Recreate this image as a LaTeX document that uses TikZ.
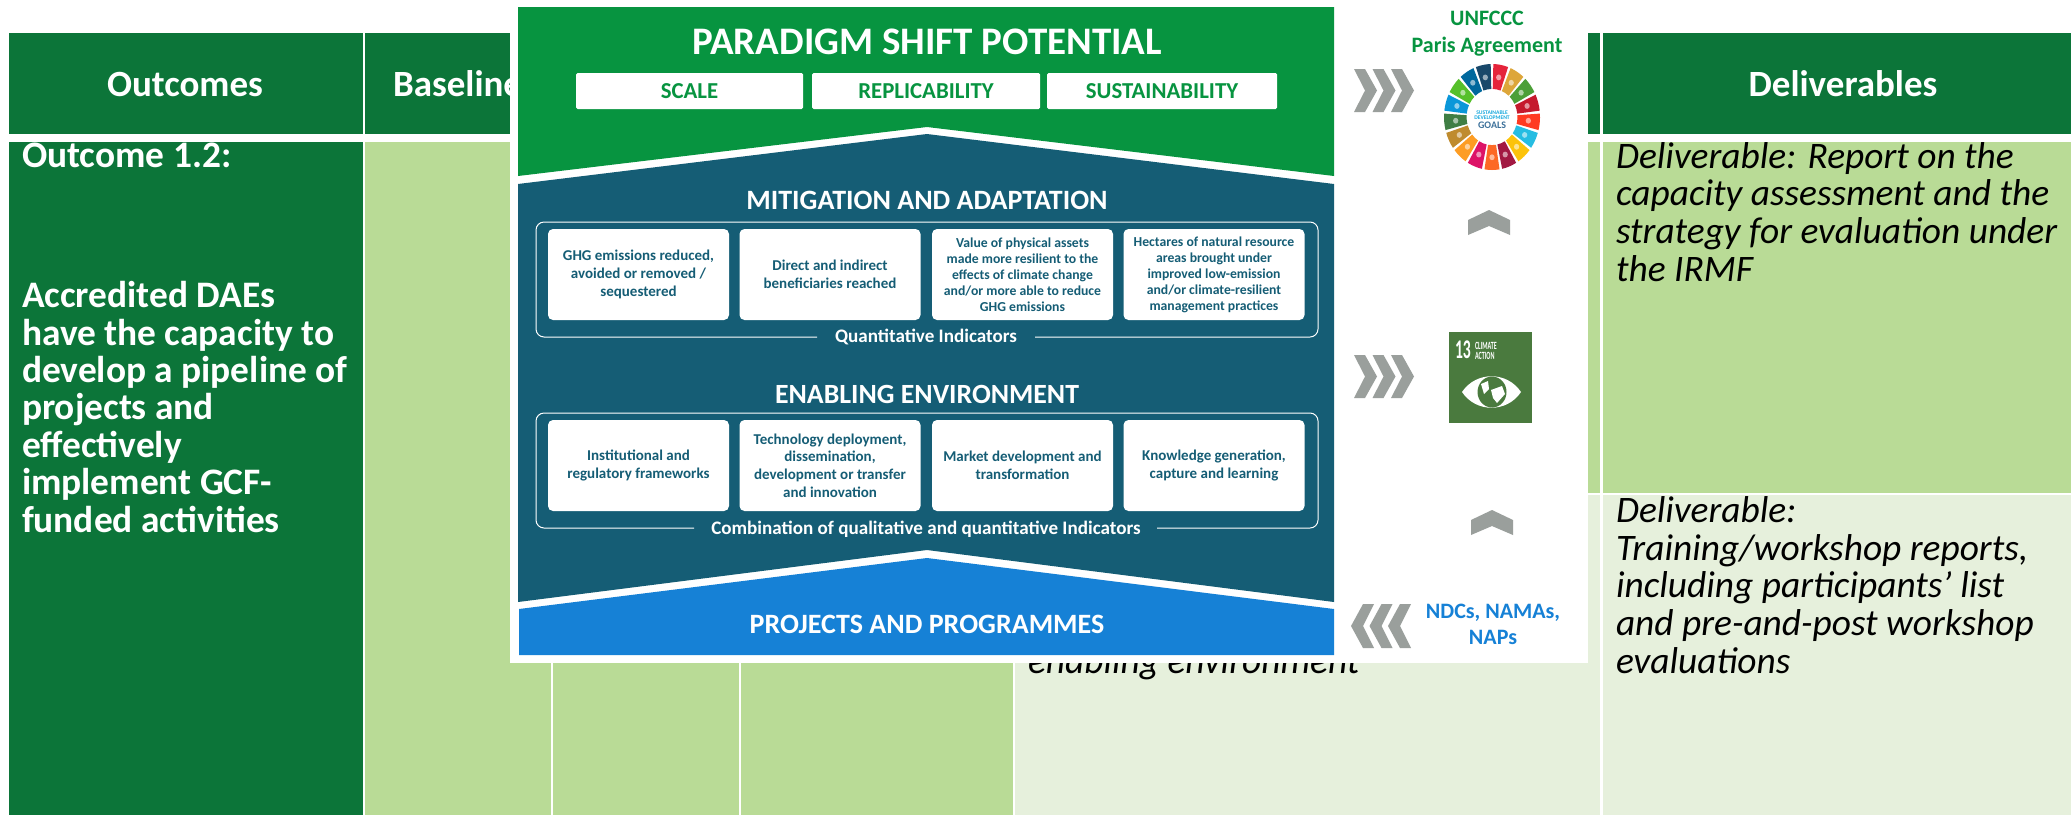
\documentclass[tikz,border=0pt]{standalone}
\usepackage{fontspec}
\setmainfont{Carlito}
\definecolor{hdr}{HTML}{0C7539}
\definecolor{lgreen}{HTML}{B9DB96}
\definecolor{pale}{HTML}{E6F0DC}
\definecolor{ovgreen}{HTML}{079440}
\definecolor{teal}{HTML}{155D75}
\definecolor{ovblue}{HTML}{1681D6}
\definecolor{chevgrey}{HTML}{9A9F9C}
\definecolor{climgreen}{HTML}{4A7A3E}
\newcommand{\fz}[2]{\fontsize{#1}{#2}\selectfont}
\newcommand{\chevR}[2]{\fill[chevgrey] (#1,#2-21.5) -- ++(11,0) -- (#1+23,#2) -- (#1+11,#2+21.5) -- (#1,#2+21.5) -- (#1+11,#2) -- cycle;}
\newcommand{\chevL}[2]{\fill[chevgrey] (#1,#2) -- (#1+12,#2-22) -- (#1+23,#2-22) -- (#1+12,#2) -- (#1+23,#2+22) -- (#1+12,#2+22) -- cycle;}
\newcommand{\chevU}[2]{\fill[chevgrey] (#1,#2+10) -- (#1+21,#2) -- (#1+42,#2+10) -- (#1+42,#2+25) -- (#1+21,#2+16) -- (#1,#2+25) -- cycle;}
\tikzset{
  txt/.style={inner sep=0pt,outer sep=0pt},
  hdrtext/.style={txt,text=white,font=\bfseries\fz{37}{37}},
  lefttext/.style={txt,text=white,anchor=base west,align=left,font=\bfseries\fz{37.4}{37.4}},
  deltext/.style={txt,text=black,anchor=base west,align=left,font=\itshape\fz{37.4}{37.6}},
  ovtitle/.style={txt,text=white,font=\bfseries},
  pill/.style={txt,fill=white,rounded corners=1.5pt,text=ovgreen,font=\bfseries\fz{22.8}{23},minimum height=36pt},
  card/.style={txt,fill=white,rounded corners=5pt,text=teal,align=center,font=\bfseries\fz{15}{17.7},minimum width=181pt,minimum height=91pt},
  smallcard/.style={card,font=\bfseries\fz{13.7}{16}},
  outline/.style={draw=white,line width=1pt,rounded corners=8pt},
}
\begin{document}
\begin{tikzpicture}[x=1pt,y=-1pt]
\useasboundingbox (0,0) rectangle (2071,815);
\fill[white] (0,0) rectangle (2071,815);
% table
\fill[hdr] (9,33) rectangle (363,134);
\fill[hdr] (365,33) rectangle (1600,134);
\fill[hdr] (1603,33) rectangle (2071,134);
\fill[hdr] (9,142) rectangle (363,815);
\fill[lgreen] (365,142) rectangle (551,815);
\fill[lgreen] (553,142) rectangle (739,815);
\fill[lgreen] (741,142) rectangle (1013,815);
\fill[lgreen] (1015,142) rectangle (1600,493);
\fill[lgreen] (1603,142) rectangle (2071,493);
\fill[pale] (1015,495) rectangle (1600,815);
\fill[pale] (1603,495) rectangle (2071,815);
\node[hdrtext,anchor=base] (outcomes) at (185,96) {Outcomes};
\node[hdrtext,anchor=base west] (baseline) at (393,96) {Baseline};
\node[hdrtext,anchor=base] (deliverables) at (1843,96) {Deliverables};
\node[lefttext] (out12) at (22,167) {Outcome 1.2:};
\node[lefttext] (outtext) at (22,532) {Accredited DAEs\\have the capacity to\\develop a pipeline of\\projects and\\effectively\\implement GCF-\\funded activities};
\node[deltext] (del1) at (1616,281) {Deliverable: Report on the\\capacity assessment and the\\strategy for evaluation under\\the IRMF};
\node[deltext] (del2) at (1616,673) {Deliverable:\\Training/workshop reports,\\including participants’ list\\and pre-and-post workshop\\evaluations};
\node[deltext] (enabling) at (1028,673) {enabling environment};
% overlay
\fill[white] (510,0) rectangle (1588,663);
\fill[ovgreen] (518,7) -- (1334,7) -- (1334,176) -- (927,127) -- (518,176) -- cycle;
\fill[teal] (518,184) -- (927,134) -- (1334,184) -- (1334,602) -- (927,550) -- (518,602) -- cycle;
\fill[ovblue] (519,609) -- (927,558) -- (1334,609) -- (1334,655) -- (519,655) -- cycle;
\node[ovtitle,font=\bfseries\fz{39}{39}] (paradigm) at (927,42) {PARADIGM SHIFT POTENTIAL};
\node[pill,minimum width=227pt] (scale) at (689.5,91) {SCALE};
\node[pill,minimum width=228pt] (repl) at (926,91) {REPLICABILITY};
\node[pill,minimum width=230pt] (sust) at (1162,91) {SUSTAINABILITY};
\node[ovtitle,font=\bfseries\fz{28}{28}] (mitig) at (927,200) {MITIGATION AND ADAPTATION};
\draw[outline] (817,337) -- (536,337) -- (536,222) -- (1318,222) -- (1318,337) -- (1035,337);
\node[card] (c11) at (638.5,274.5) {GHG emissions reduced,\\avoided or removed /\\sequestered};
\node[card] (c12) at (830,274.5) {Direct and indirect\\beneficiaries reached};
\node[smallcard] (c13) at (1022.5,274.5) {Value of physical assets\\made more resilient to the\\effects of climate change\\and/or more able to reduce\\GHG emissions};
\node[smallcard] (c14) at (1214,274.5) {Hectares of natural resource\\areas brought under\\improved low-emission\\and/or climate-resilient\\management practices};
\node[ovtitle,font=\bfseries\fz{19.1}{19}] (quant) at (926,337) {Quantitative Indicators};
\node[ovtitle,font=\bfseries\fz{27.8}{28}] (enab) at (927,394) {ENABLING ENVIRONMENT};
\draw[outline] (694,528) -- (536,528) -- (536,413) -- (1318,413) -- (1318,528) -- (1157,528);
\node[card] (c21) at (638.5,465.5) {Institutional and\\regulatory frameworks};
\node[card] (c22) at (830,465.5) {Technology deployment,\\dissemination,\\development or transfer\\and innovation};
\node[card] (c23) at (1022.5,465.5) {Market development and\\transformation};
\node[card] (c24) at (1214,465.5) {Knowledge generation,\\capture and learning};
\node[ovtitle,font=\bfseries\fz{19.1}{19}] (combo) at (926,529) {Combination of qualitative and quantitative Indicators};
\node[ovtitle,font=\bfseries\fz{28}{28}] (projects) at (927,624) {PROJECTS AND PROGRAMMES};
% right strip
\node[txt,anchor=base,text=ovgreen,align=center,font=\bfseries\fz{22}{27}] (unf) at (1487,52) {UNFCCC\\Paris Agreement};
\foreach \l in {1354,1372.5,1391}{\chevR{\l}{90.5}}
\foreach \l in {1354,1372.5,1391}{\chevR{\l}{376.5}}
\foreach \l in {1351,1369.5,1388}{\chevL{\l}{626}}
\chevU{1468}{210}
\chevU{1471}{510}
% SDG wheel
\begin{scope}[shift={(1492,117)},x=48pt,y=53pt]
\foreach \i/\c in {1/E5243B,2/DDA63A,3/4C9F38,4/C5192D,5/FF3A21,6/26BDE2,7/FCC30B,8/A21942,9/FD6925,10/DD1367,11/FD9D24,12/BF8B2E,13/3F7E44,14/0A97D9,15/56C02B,16/00689D,17/19486A}{
  \pgfmathsetmacro{\am}{90-21.176*(\i-0.5)}
  \pgfmathsetmacro{\aa}{\am+9}
  \pgfmathsetmacro{\ab}{\am-9}
  \definecolor{seg}{HTML}{\c}
  \fill[seg] (\aa:1) arc[start angle=\aa,end angle=\ab,radius=1] -- (\ab:0.53) arc[start angle=\ab,end angle=\aa,radius=0.53] -- cycle;
  \fill[white,opacity=.55] (\am:0.76) circle[radius=0.055];
}
\end{scope}
\node[txt,align=center,text=chevgrey!10!ovblue!70!cyan,font=\bfseries\fz{5.6}{5}] (sdgt) at (1492,115.5) {SUSTAINABLE\\DEVELOPMENT};
\node[txt,text=ovblue!60!black!80,font=\bfseries\fz{10}{10}] (goals) at (1492,125) {GOALS};
% climate action
\fill[climgreen] (1449,332) rectangle (1532,423);
\node[txt,anchor=west,text=white,font=\bfseries\fz{27}{27}] (n13) at (1455,350) {\scalebox{.58}[1]{13}};
\node[txt,anchor=base west,text=white,align=left,font=\bfseries\fz{11}{10.5}] (climact) at (1475,359.5) {\scalebox{.55}[1]{CLIMATE}\\\scalebox{.55}[1]{ACTION}};
\fill[white] (1462,392) .. controls (1476,371) and (1507,371) .. (1521,392) .. controls (1507,413) and (1476,413) .. (1462,392) -- cycle;
\fill[climgreen] (1492,392) ellipse[x radius=14.5,y radius=15.5];
\fill[white] (1481,384) -- (1488,381) -- (1489,389) -- (1484,394) -- cycle;
\fill[white] (1491,390) -- (1502,386) -- (1505,394) -- (1497,403) -- (1493,398) -- cycle;
\node[txt,anchor=base,text=ovblue,align=center,font=\bfseries\fz{22}{26}] (ndc) at (1493,644) {NDCs, NAMAs,\\NAPs};
\end{tikzpicture}
\end{document}
